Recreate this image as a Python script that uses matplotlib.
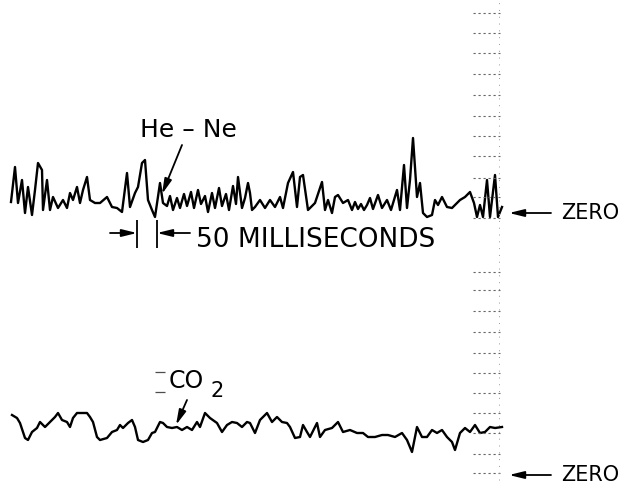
import matplotlib.pyplot as plt
import numpy as np

# He-Ne trace: time (ms) and amplitude above its zero line
hene_t = [0, 10, 17.5, 27.5, 35, 42.5, 52.5, 60, 67.5, 77.5, 80, 90, 97.5, 105,
          117.5, 130, 140, 147.5, 155, 165, 172.5, 180, 190, 197.5, 210, 222.5,
          240, 252.5, 265, 277.5, 290, 297.5, 310, 317.5, 327.5, 335, 342.5,
          352.5, 360, 372.5, 380, 390, 397.5, 405, 415, 422.5, 432.5, 440, 450,
          457.5, 467.5, 475, 485, 492.5, 502.5, 510, 520, 527.5, 537.5, 545,
          555, 562.5, 567.5, 577.5, 585, 592.5, 597.5, 602.5, 610, 622.5, 635,
          647.5, 660, 672.5, 680, 692.5, 705, 715, 722.5, 730, 742.5, 760,
          777.5, 785, 792.5, 802.5, 810, 817.5, 830, 842.5, 852.5, 860, 867.5,
          875, 882.5, 890, 897.5, 905, 917.5, 927.5, 940, 950, 965, 972.5,
          982.5, 990, 997.5, 1005, 1015, 1022.5, 1030, 1040, 1052.5, 1060,
          1067.5, 1077.5, 1090, 1102.5, 1115, 1122.5, 1135, 1147.5, 1157.5,
          1165, 1172.5, 1180, 1190, 1197.5, 1210, 1217.5, 1227.5]
hene_amp = [16, 51, 15, 38, 5, 31, 3, 28, 55, 48, 8, 38, 8, 21,
            10, 18, 10, 25, 18, 31, 15, 28, 41, 18, 15, 15,
            21, 11, 10, 6, 45, 11, 25, 31, 55, 58, 18,
            8, 1, 35, 15, 12, 22, 8, 20, 10, 24, 12, 26,
            10, 28, 14, 22, 6, 25, 10, 30, 12, 24, 8,
            32, 14, 41, 10, 20, 35, 25, 8, 11, 18, 10,
            18, 11, 21, 10, 35, 46, 11, 41, 43, 8, 15,
            36, 8, 18, 5, 21, 23, 15, 18, 8, 16, 9,
            14, 8, 13, 20, 9, 23, 10, 18, 8, 28, 8,
            53, 10, 38, 80, 21, 35, 5, 1, 3, 18,
            13, 21, 11, 10, 15, 18, 21, 26, 15,
            1, 13, 1, 38, 1, 43, 1, 11]

# CO2 trace: time (ms) and amplitude above its zero line
co2_t = [2.5, 15, 22.5, 35, 42.5, 52.5, 65, 72.5, 85, 97.5, 110, 117.5, 127.5,
         140, 147.5, 155, 165, 177.5, 190, 197.5, 205, 215, 222.5, 240, 252.5,
         265, 272.5, 280, 292.5, 302.5, 310, 317.5, 330, 342.5, 352.5, 360,
         372.5, 380, 390, 402.5, 415, 427.5, 440, 452.5, 465, 472.5, 485,
         497.5, 515, 527.5, 540, 552.5, 565, 577.5, 590, 597.5, 610, 622.5,
         640, 652.5, 665, 677.5, 690, 697.5, 710, 722.5, 730, 740, 747.5, 765,
         772.5, 785, 802.5, 817.5, 830, 847.5, 865, 880, 892.5, 910, 927.5,
         942.5, 960, 977.5, 990, 1002.5, 1015, 1027.5, 1040, 1052.5, 1065,
         1077.5, 1090, 1102.5, 1110, 1122.5, 1135, 1147.5, 1160, 1172.5, 1185,
         1197.5, 1210, 1227.5]
co2_amp = [61, 58, 53, 38, 36, 44, 48, 54, 49, 54, 59, 63, 56,
           54, 49, 58, 63, 63, 63, 59, 54, 39, 36, 38, 44,
           46, 51, 48, 53, 56, 49, 36, 34, 36, 43, 44,
           54, 53, 49, 48, 49, 46, 49, 46, 54, 49, 63,
           58, 53, 44, 51, 54, 53, 49, 54, 53, 43, 56,
           63, 54, 59, 54, 53, 49, 38, 39, 51, 44, 39, 53,
           39, 46, 48, 54, 44, 46, 43, 43, 39, 39, 41,
           41, 39, 43, 36, 24, 49, 39, 39, 46, 43,
           46, 39, 34, 26, 43, 48, 44, 51, 43, 44,
           49, 48, 49]

# faint graticule dashes at the right edge (height in px from bottom)
grid_upper = [471, 451, 431, 410, 389, 368, 348, 328, 306, 287, 266]
grid_lower = [212, 194, 173, 152, 131, 111, 91, 71, 51, 30, 11]

HENE_ZERO = 266
CO2_ZERO = 8

fig = plt.figure(figsize=(6.35, 4.84), dpi=100)
ax = fig.add_axes([0, 0, 1, 1])
ax.set_xlim(-27.5, 1560)
ax.set_ylim(0, 484)
ax.axis("off")

ax.plot(hene_t, HENE_ZERO + np.array(hene_amp), color="k", lw=1.7)
ax.plot(co2_t, CO2_ZERO + np.array(co2_amp), color="k", lw=1.7)

# right side graticule
ax.hlines(grid_upper + grid_lower, 1155, 1222, color="0.4", lw=0.8,
          linestyles=(0, (2, 2.5)))
ax.vlines(1220, 4, 484, color="0.6", lw=0.7, linestyles=(0, (1, 6)))

head = dict(arrowstyle="-|>,head_length=0.9,head_width=0.22", color="k",
            lw=1.3, shrinkA=0, shrinkB=0)

# ZERO markers
ax.annotate("", xy=(1245, 271), xytext=(1350, 271), arrowprops=head)
ax.text(1375, 271, "ZERO", fontsize=15, va="center", ha="left")
ax.annotate("", xy=(1245, 9), xytext=(1350, 9), arrowprops=head)
ax.text(1375, 9, "ZERO", fontsize=15, va="center", ha="left")

# 50 ms scale bar
ax.vlines([315, 365], 236, 264, color="k", lw=1.3)
ax.annotate("", xy=(315, 251), xytext=(247.5, 251), arrowprops=head)
ax.annotate("", xy=(365, 251), xytext=(447.5, 251), arrowprops=head)
ax.text(463, 244, "50 MILLISECONDS", fontsize=19, va="center", ha="left")

# labels
ax.text(322.5, 354, "He – Ne", fontsize=18, va="center", ha="left")
ax.annotate("", xy=(377.5, 290), xytext=(427.5, 339), arrowprops=head)

ax.text(395, 103, "CO", fontsize=17, va="center", ha="left")
ax.text(500, 93, "2", fontsize=15, va="center", ha="left")
ax.annotate("", xy=(412.5, 59), xytext=(440, 84), arrowprops=head)
ax.hlines([112, 92], 360, 385, color="0.3", lw=0.9)

fig.savefig("out.png", dpi=100)
